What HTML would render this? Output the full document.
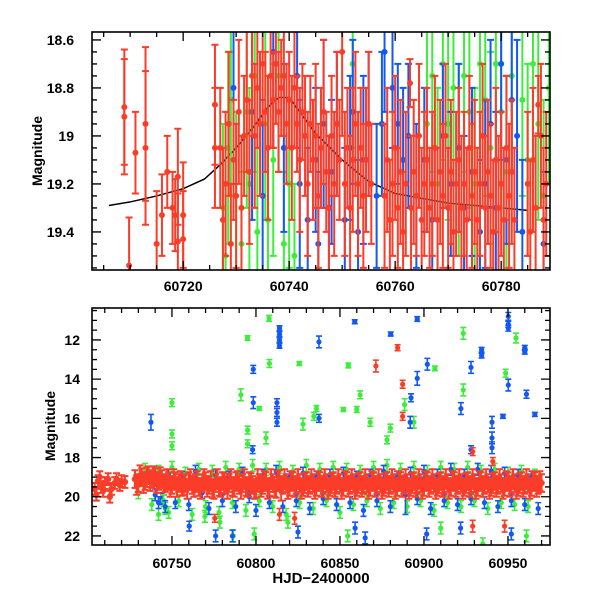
<!DOCTYPE html>
<html><head><meta charset="utf-8"><style>
body{margin:0;background:#fff}
svg{display:block}
text{font-family:"Liberation Sans",sans-serif;font-weight:bold;fill:#000}
</style></head><body>
<svg id="chart" width="600" height="600" viewBox="0 0 600 600">
<defs>
<clipPath id="ct"><rect x="92" y="32" width="458" height="238"/></clipPath>
<clipPath id="cb"><rect x="92" y="308" width="458" height="237"/></clipPath>
</defs>
<g id="topData" clip-path="url(#ct)"></g>
<g id="botData" clip-path="url(#cb)"></g>
<g id="axes"></g>
<text x="42" y="151" font-size="14" text-anchor="middle" transform="rotate(-90 42 151)">Magnitude</text>
<text x="55" y="426" font-size="14" text-anchor="middle" transform="rotate(-90 55 426)">Magnitude</text>
<text x="321" y="583" font-size="15" text-anchor="middle">HJD−2400000</text>
</svg>
<script>
// ---- top panel data ----
const curveT=[60706,60710,60715,60720,60724,60727,60730,60733,60736,60738,60740,60742,60745,60750,60755,60760,60765,60770,60775,60780,60785];
const curveM=[19.29,19.275,19.25,19.22,19.18,19.12,19.05,18.97,18.88,18.84,18.84,18.9,18.99,19.1,19.19,19.24,19.26,19.28,19.29,19.3,19.31];
const topGreen=[[60727.5,19.3,.35],[60728,19.5,.3],[60728.5,19.05,.4],[60729,18.85,.4],[60730,19.25,.35],[60731,19.45,.3],[60732,18.9,.4],[60732.5,19.2,.4],[60733.5,18.75,.4],[60734,19.4,.35],[60735.5,18.95,.4],[60736,19.35,.3],[60737,19.1,.4],[60738,18.75,.4],[60739,19.45,.3],[60740,19.2,.35],[60741,19.5,.3],[60752,18.7,.35],[60766,18.95,.45],[60767,18.75,.4],[60768,19.2,.4],[60769,18.7,.4],[60770,18.95,.4],[60771,18.8,.4],[60772,19.1,.4],[60773,18.75,.4],[60774,18.9,.4],[60775,19.2,.4],[60776,18.7,.4],[60777,18.85,.4],[60778,19.05,.4],[60779,18.7,.4],[60780,18.9,.4],[60781,19.15,.4],[60782,18.75,.4],[60784,18.85,.4],[60785,19.1,.4],[60786,18.7,.4],[60787,18.95,.4],[60788,19.25,.4],[60789,18.8,.4]];
const topBlue=[[60729.5,18.8,.4],[60733,18.9,.45],[60735,19.25,.4],[60737,18.65,.4],[60739,19.05,.35],[60741.5,18.75,.3],[60742,19.2,.35],[60743.5,19.35,.3],[60745,19.1,.3],[60745.5,19.45,.3],[60746.5,18.95,.35],[60747.5,19.3,.3],[60748,19.15,.3],[60749,18.95,.3],[60750.5,19.35,.3],[60751.5,19.05,.3],[60752,18.9,.3],[60753,19.4,.3],[60754,19.1,.35],[60755,18.95,.3],[60756.5,19.25,.3],[60757.5,18.95,.3],[60758,18.65,.25],[60759.5,18.8,.25],[60760.5,18.95,.25],[60761.5,19.1,.3],[60762.5,19.0,.3],[60764,19.25,.3],[60765.5,19.1,.3],[60767,19.35,.3],[60769,19.0,.3],[60770.5,19.2,.3],[60772,19.05,.35],[60773,19.3,.3],[60774.5,19.15,.35],[60776,19.4,.3],[60777,19.2,.35],[60778,18.95,.35],[60779,19.3,.4],[60780,18.7,.4],[60781,19.1,.35],[60782,18.85,.3],[60783,19.0,.4],[60784,19.4,.3],[60788,19.45,.3]];
const topRed=[[60708.9,18.88,.24],[60708.9,18.92,.24],[60709.8,19.54,.2],[60711,19.07,.17],[60712.9,18.95,.32],[60712.9,19.05,.32],[60715,19.45,.22],[60716,19.33,.17],[60717,19.15,.15],[60718,19.3,.15],[60718.5,19.33,.15],[60719,19.17,.2],[60719,19.44,.2],[60720,19.33,.22],[60720,19.43,.2],[60726,18.87,.25],[60726,19.05,.25],
[60727,19.05,.25],[60727.5,19.35,.3],[60728,19.2,.3],[60728.6,18.95,.3],[60729,19.45,.25],[60729.5,19.1,.25],[60730,19.25,.3],[60730.5,18.9,.3],[60731,19.3,.3],[60731.5,19.0,.25],[60732,18.85,.3],[60732.5,19.15,.3],[60733,18.75,.25],[60733.5,19.0,.3],[60734,18.8,.25],[60734.5,18.95,.3],[60735,18.7,.25],[60735.5,18.9,.25],[60736,19.05,.3],[60736.5,18.75,.3],[60737,18.85,.2],[60737.5,18.7,.25],[60738,18.9,.25],[60738.5,18.8,.2],[60739,18.75,.25],[60739.5,18.95,.25],[60740,18.85,.2],[60740.5,19.05,.3],[60741,18.8,.25],[60741.5,18.95,.2],[60742,19.1,.3],[60742.5,18.9,.2],[60743,19.0,.25],[60743.5,19.2,.3],[60744,18.95,.2],[60744.5,19.1,.25],[60745,19.0,.3],[60745.5,19.25,.3],[60746,19.05,.25],[60746.5,18.9,.3],[60747,19.15,.25],[60747.5,19.3,.3],[60748,19.0,.25],[60748.5,19.2,.3],[60749,18.95,.3],[60749.5,19.1,.25],[60750,18.65,.35],[60750.5,19.2,.3],[60751,19.05,.25],[60751.5,19.3,.3],[60752,19.1,.3],[60752.5,18.95,.3],[60753,19.2,.3],[60753.5,19.05,.25],[60754,19.25,.3],[60754.5,19.1,.3],[60755,18.95,.3],[60755.5,19.2,.25],[60758,19.25,.3],[60758.5,19.1,.3],[60759,19.35,.25],[60759.5,19.2,.3],[60760,19.05,.3],[60760.5,19.3,.25],[60761,19.15,.3],[60761.5,19.4,.25],[60762,19.2,.3],[60762.8,18.78,.1],[60763,19.3,.3],[60763.5,19.15,.3],[60764,19.25,.25],[60764.5,19.0,.3],[60765,19.35,.3],[60765.5,19.2,.3],[60766,19.1,.3],[60766.5,19.3,.25],[60767,19.2,.3],[60767.5,19.05,.3],[60768,19.35,.3],[60768.5,19.15,.3],[60769,19.25,.3],[60769.5,19.0,.3],[60770,19.3,.25],[60770.5,19.15,.3],[60771,19.4,.3],[60771.5,19.2,.3],[60772,19.1,.3],[60772.5,19.3,.3],[60773,19.2,.3],[60773.5,19.35,.3],[60774,19.05,.3],[60774.5,19.25,.3],[60775,19.15,.3],[60775.5,19.35,.3],[60776,19.2,.3],[60776.5,19.0,.3],[60777,19.3,.3],[60777.5,19.15,.3],[60778,19.25,.3],[60778.5,19.4,.3],[60779,19.1,.3],[60779.5,19.3,.3],[60780,19.2,.3],[60780.5,19.35,.3],[60781,19.05,.3],[60781.5,19.25,.3],[60782,19.15,.3],[60782.5,19.35,.3],[60785,19.2,.3],[60785.5,19.4,.3],[60786,19.1,.3],[60786.5,19.3,.3],[60787,18.87,.12],[60787.5,19.0,.3],[60788,19.35,.3],[60788.5,19.2,.3]];
// ---- bottom panel data ----
const botGreenBand=[[60730,19.8,.3],[60734,18.6,.3],[60738,20.4,.3],[60742,18.7,.3],[60746,20.6,.3],[60750,18.5,.3],[60754,20.2,.3],[60758,18.8,.3],[60762,20.9,.3],[60766,18.6,.3],[60770,20.5,.3],[60774,18.7,.3],[60778,20.8,.3],[60782,18.5,.3],[60786,20.3,.3],[60790,18.6,.3],[60794,20.7,.3],[60798,18.4,.3],[60802,20.2,.3],[60806,18.6,.3],[60810,20.5,.3],[60814,18.5,.3],[60818,20.9,.3],[60822,18.7,.3],[60826,20.3,.3],[60830,18.4,.3],[60834,20.6,.3],[60838,18.6,.3],[60842,20.2,.3],[60846,18.5,.3],[60850,20.8,.3],[60854,18.6,.3],[60858,20.4,.3],[60862,18.7,.3],[60866,20.2,.3],[60870,18.5,.3],[60874,20.6,.3],[60878,18.4,.3],[60882,20.3,.3],[60886,18.6,.3],[60890,20.5,.3],[60894,18.5,.3],[60898,20.2,.3],[60902,18.7,.3],[60906,20.7,.3],[60910,18.5,.3],[60914,20.3,.3],[60918,18.6,.3],[60922,20.5,.3],[60926,18.5,.3],[60930,20.2,.3],[60934,18.7,.3],[60938,20.6,.3],[60942,18.6,.3],[60946,20.3,.3],[60950,18.8,.3],[60954,20.4,.3],[60958,18.7,.3],[60962,20.5,.3],[60966,18.9,.3]];
const botBlueBand=[[60735,18.8,.3],[60740,19.9,.3],[60744,20.1,.3],[60748,18.9,.3],[60752,20.3,.3],[60756,19.0,.3],[60760,20.4,.3],[60764,18.7,.3],[60768,19.8,.3],[60772,20.6,.3],[60776,18.9,.3],[60780,20.2,.3],[60784,19.0,.3],[60788,20.5,.3],[60792,18.8,.3],[60796,20.0,.3],[60800,20.7,.3],[60804,18.9,.3],[60808,20.3,.3],[60812,18.7,.3],[60816,20.5,.3],[60820,19.0,.3],[60824,20.2,.3],[60828,18.8,.3],[60832,20.6,.3],[60836,19.0,.3],[60840,20.1,.3],[60844,18.9,.3],[60848,20.4,.3],[60852,18.8,.3],[60856,20.3,.3],[60860,19.0,.3],[60864,20.7,.3],[60868,18.9,.3],[60872,20.2,.3],[60876,18.7,.3],[60880,20.5,.3],[60884,19.0,.3],[60889,19.9,1.0],[60892,18.8,.3],[60896,20.1,.3],[60900,18.7,.3],[60904,20.6,.3],[60908,18.9,.3],[60912,20.2,.3],[60916,18.6,.3],[60920,20.4,.3],[60924,18.9,.3],[60928,20.1,.3],[60932,18.6,.3],[60936,20.3,.3],[60940,18.7,.3],[60944,20.5,.3],[60948,18.8,.3],[60952,20.2,.3],[60956,18.9,.3],[60960,20.4,.3],[60964,19.0,.3],[60968,20.6,.3]];
const botRedBand=[[60704,19.6,.3],[60705,19.9,.3],[60706,19.2,.3],[60707,19.0,.3],[60708,19.5,.3],[60709,19.7,.3],[60710,19.3,.3],[60712,19.1,.3],[60713,20.0,.3],[60714,19.6,.3],[60716,19.3,.3],[60717,19.1,.3],[60719,19.4,.3],[60720,19.2,.3],[60722,19.25,.3],
[60728,19.1,.45],[60730,19.3,.45],[60732,19.0,.45],[60734,19.2,.45],[60736,18.9,.45],[60738,19.1,.45],[60740,19.0,.45],[60742,19.2,.45],[60744,19.1,.45],[60746,19.3,.45],[60748,19.2,.45],[60750,19.4,.45],[60752,19.2,.45],[60754,19.3,.45],[60756,19.5,.45],[60758,19.3,.45],[60760,19.2,.45],[60762,19.4,.45],[60764,19.3,.45],[60766,19.5,.45],[60768,19.3,.45],[60770,19.2,.45],[60772,19.4,.45],[60774,19.6,.45],[60776,19.3,.45],[60778,19.5,.45],[60780,19.2,.45],[60782,19.4,.45],[60784,19.3,.45],[60786,19.5,.45],[60788,19.2,.45],[60790,19.4,.45],[60792,19.3,.45],[60794,19.5,.45],[60796,19.2,.45],[60798,19.4,.45],[60800,19.6,.45],[60802,19.3,.45],[60804,19.4,.45],[60806,19.2,.45],[60808,19.5,.45],[60810,19.3,.45],[60812,19.6,.45],[60814,19.1,.45],[60816,19.4,.45],[60818,19.3,.45],[60820,19.5,.45],[60822,19.2,.45],[60824,19.4,.45],[60826,19.3,.45],[60828,19.5,.45],[60830,19.2,.45],[60832,19.4,.45],[60834,19.3,.45],[60836,19.5,.45],[60838,19.2,.45],[60840,19.4,.45],[60842,19.3,.45],[60844,19.5,.45],[60846,19.2,.45],[60848,19.4,.45],[60850,19.3,.45],[60852,19.5,.45],[60854,19.2,.45],[60856,19.4,.45],[60858,19.3,.45],[60860,19.5,.45],[60862,19.2,.45],[60864,19.4,.45],[60866,19.3,.45],[60868,19.5,.45],[60870,19.2,.45],[60872,19.4,.45],[60874,19.3,.45],[60876,19.5,.45],[60878,19.2,.45],[60880,19.4,.45],[60882,19.3,.45],[60884,19.5,.45],[60886,19.2,.45],[60888,19.4,.45],[60890,19.3,.45],[60892,19.5,.45],[60894,19.2,.45],[60896,19.4,.45],[60898,19.3,.45],[60900,19.5,.45],[60902,19.2,.45],[60904,19.4,.45],[60906,19.3,.45],[60908,19.5,.45],[60910,19.2,.45],[60912,19.4,.45],[60914,19.3,.45],[60916,19.5,.45],[60918,19.2,.45],[60920,19.4,.45],[60922,19.3,.45],[60924,19.5,.45],[60926,19.2,.45],[60928,19.4,.45],[60930,19.3,.45],[60932,19.5,.45],[60934,19.2,.45],[60936,19.4,.45],[60938,19.3,.45],[60940,19.5,.45],[60942,19.2,.45],[60944,19.4,.45],[60946,19.3,.45],[60948,19.5,.45],[60950,19.2,.45],[60952,19.4,.45],[60954,19.3,.45],[60956,19.5,.45],[60958,19.2,.45],[60960,19.4,.45],[60962,19.3,.45],[60964,19.5,.45],[60966,19.2,.45],[60968,19.4,.45],[60970,19.3,.45]];
const botRedBand2=[[60729,19.4,.5],[60731,18.9,.5],[60733,19.3,.5],[60735,19.0,.5],[60737,19.2,.5],[60739,18.95,.5],[60741,19.3,.5],[60743,19.0,.5],[60745,19.4,.5],[60747,19.1,.5],[60749,19.5,.5],[60751,19.1,.5],[60753,19.5,.5],[60755,19.2,.5],[60757,19.4,.5],[60759,19.6,.5],[60761,19.1,.5],[60763,19.5,.5],[60765,19.2,.5],[60767,19.6,.5],[60769,19.1,.5],[60771,19.5,.5],[60773,19.2,.5],[60775,19.6,.5],[60777,19.1,.5],[60779,19.5,.5],[60781,19.3,.5],[60783,19.6,.5],[60785,19.1,.5],[60787,19.5,.5],[60789,19.2,.5],[60791,19.6,.5],[60793,19.1,.5],[60795,19.5,.5],[60797,19.3,.5],[60799,19.6,.5],[60801,19.1,.5],[60803,19.5,.5],[60805,19.2,.5],[60807,19.6,.5],[60809,19.1,.5],[60811,19.5,.5],[60813,19.2,.5],[60815,19.7,.5],[60817,19.1,.5],[60819,19.6,.5],[60821,19.2,.5],[60823,19.5,.5],[60825,19.1,.5],[60827,19.6,.5],[60829,19.3,.5],[60831,19.5,.5],[60833,19.1,.5],[60835,19.6,.5],[60837,19.2,.5],[60839,19.5,.5],[60841,19.1,.5],[60843,19.6,.5],[60845,19.3,.5],[60847,19.5,.5],[60849,19.1,.5],[60851,19.6,.5],[60853,19.2,.5],[60855,19.5,.5],[60857,19.1,.5],[60859,19.6,.5],[60861,19.3,.5],[60863,19.5,.5],[60865,19.1,.5],[60867,19.6,.5],[60869,19.2,.5],[60871,19.5,.5],[60873,19.1,.5],[60875,19.6,.5],[60877,19.3,.5],[60879,19.5,.5],[60881,19.1,.5],[60883,19.6,.5],[60885,19.2,.5],[60887,19.5,.5],[60889,19.1,.5],[60891,19.6,.5],[60893,19.3,.5],[60895,19.5,.5],[60897,19.1,.5],[60899,19.6,.5],[60901,19.2,.5],[60903,19.5,.5],[60905,19.1,.5],[60907,19.6,.5],[60909,19.3,.5],[60911,19.5,.5],[60913,19.1,.5],[60915,19.6,.5],[60917,19.2,.5],[60919,19.5,.5],[60921,19.1,.5],[60923,19.6,.5],[60925,19.3,.5],[60927,19.5,.5],[60929,19.1,.5],[60931,19.6,.5],[60933,19.2,.5],[60935,19.5,.5],[60937,19.1,.5],[60939,19.6,.5],[60941,19.3,.5],[60943,19.5,.5],[60945,19.1,.5],[60947,19.6,.5],[60949,19.2,.5],[60951,19.5,.5],[60953,19.1,.5],[60955,19.6,.5],[60957,19.3,.5],[60959,19.5,.5],[60961,19.1,.5],[60963,19.6,.5],[60965,19.2,.5],[60967,19.5,.5],[60969,19.2,.5]];
const botGreenOut=[[60807.8,10.9,.15],[60795,11.9,.12],[60808,13.2,.2],[60825.8,13.2,.1],[60855,13.3,.12],[60791,14.8,.3],[60802,15.5,.1],[60862,14.8,.2],[60860,15.55,.15],[60852,15.55,.1],[60836,15.5,.15],[60828,16.3,.3],[60834.5,15.9,.2],[60795,16.6,.2],[60795,17.3,.2],[60806,17.0,.3],[60750,15.2,.2],[60750,16.8,.2],[60750,17.4,.2],[60769.6,21.0,.3],[60778.5,21.3,.3],[60799,21.9,.3],[60819,21.3,.3],[60786.5,22.0,.3],[60854.6,22.0,.3],[60906.5,13.45,.12],[60888.5,15.3,.3],[60868,16.2,.2],[60880,16.5,.2],[60878,17.1,.2],[60894,16.2,.3],[60923.4,11.66,.3],[60923.4,14.55,.3],[60954.8,11.9,.25],[60948.6,13.7,.2],[60935,22.4,.3],[60961,22.0,.3],[60910,21.6,.3],[60745,20.2,.3],[60748,20.8,.3],[60742,20.9,.3]];
const botBlueOut=[[60737.5,16.2,.4],[60814,11.4,.12],[60814,11.7,.12],[60814,12.0,.12],[60814,12.3,.12],[60837.5,12.1,.3],[60858.8,11.07,.1],[60798.4,13.5,.2],[60798.4,15.2,.3],[60812.5,15.2,.2],[60812.5,15.7,.2],[60812.5,16.2,.2],[60837.5,16.0,.2],[60798,17.6,.2],[60760.3,21.5,.25],[60776,22.0,.3],[60786,22.0,.3],[60825,21.8,.3],[60859,21.6,.3],[60896,10.93,.12],[60880.2,11.7,.1],[60902,13.24,.3],[60896,13.96,.35],[60892.3,14.95,.2],[60891.8,16.2,.3],[60934.3,12.5,.12],[60934.3,12.8,.12],[60928,13.4,.3],[60922,15.5,.3],[60940.5,16.2,.3],[60947,15.9,.1],[60950.2,10.8,.2],[60950.2,11.2,.15],[60950.2,11.4,.15],[60960,12.4,.12],[60960,12.6,.12],[60950.2,14.3,.3],[60961,14.77,.2],[60966,15.8,.1],[60940.5,17.0,.3],[60940.5,17.5,.3],[60928,17.6,.2],[60901.6,21.9,.3],[60865,22.1,.3],[60952,21.9,.3],[60921.8,21.6,.3],[60742,20.3,.3],[60746,20.5,.3]];
const botRedOut=[[60884.3,12.4,.15],[60871.4,13.33,.3],[60887.3,14.26,.2],[60887.3,15.9,.2],[60929,17.7,.2],[60941,18.2,.2],[60775.5,21.1,.2],[60814,20.9,.3],[60823,21.1,.3],[60948,21.5,.3],[60929,21.5,.3]];
// ---- tick labels ----
const topXTicks=[60720,60740,60760,60780];
const topYTicks=[18.6,18.8,19,19.2,19.4];
const topYLabels=["18.6","18.8","19","19.2","19.4"];
const botXTicks=[60750,60800,60850,60900,60950];
const botYTicks=[12,14,16,18,20,22];

const NS="http://www.w3.org/2000/svg";
const RED="#fa3c28",BLUE="#1358f2",GREEN="#3ced3a";
const tx=t=>92+(t-60702.8)*5.3, ty=m=>32+(m-18.567)*240;
const bx=t=>92+(t-60702.4)*1.68, by=m=>308+(m-10.37)*19.6;

function mk(tag,attrs,parent){const e=document.createElementNS(NS,tag);for(const k in attrs)e.setAttribute(k,attrs[k]);parent.appendChild(e);return e;}

function drawSeries(parent,data,color,sx,sy,name,r,cap,sw){
  const g=mk('g',{},parent);
  
  
  data.forEach(d=>{
    const x=sx(d[0]),y=sy(d[1]),y1=sy(d[1]-d[2]),y2=sy(d[1]+d[2]);
    const p=mk('path',{d:`M${x},${y1}V${y2}M${x-cap},${y1}H${x+cap}M${x-cap},${y2}H${x+cap}`,stroke:color,'stroke-width':sw||1.6,fill:'none'},g);
    
    
    const c=mk('circle',{cx:x,cy:y,r:r,fill:color},g);
    
    
  });
}
const topG=document.getElementById('topData'), botG=document.getElementById('botData');
const cv=mk('path',{d:curveT.map((t,i)=>(i?'L':'M')+tx(t)+','+ty(curveM[i])).join(''),stroke:'#000','stroke-width':1.5,fill:'none'},topG);


drawSeries(topG,topGreen,GREEN,tx,ty,'top-green-series',3,3.5,2);
drawSeries(topG,topBlue,BLUE,tx,ty,'top-blue-series',3,3.5,2);
drawSeries(topG,topRed,RED,tx,ty,'top-red-series',3,3.5,2);
drawSeries(botG,botGreenBand,GREEN,bx,by,'bottom-green-band',2.6,3);
drawSeries(botG,botBlueBand,BLUE,bx,by,'bottom-blue-band',2.6,3);
drawSeries(botG,botRedBand2,RED,bx,by,'bottom-red-band-odd',3,3.5,2);
drawSeries(botG,botRedBand,RED,bx,by,'bottom-red-band',3.2,3.5,2);
drawSeries(botG,botGreenOut,GREEN,bx,by,'bottom-green-outliers',2.6,3);
drawSeries(botG,botBlueOut,BLUE,bx,by,'bottom-blue-outliers',2.6,3);
drawSeries(botG,botRedOut,RED,bx,by,'bottom-red-outliers',2.6,3);

// axes
const ax=document.getElementById('axes');
function frame(x0,y0,x1,y1,name){
  const r=mk('rect',{x:x0,y:y0,width:x1-x0,height:y1-y0,fill:'none',stroke:'#000','stroke-width':1.6},ax);
  
  
}
function ticks(x0,y0,x1,y1,sx,sy,xmin,xmax,xmajor,xminor,ymin,ymax,ymajor,yminor,name){
  let d='';
  for(let v=Math.ceil(xmin/xminor)*xminor;v<=xmax;v+=xminor){const x=sx(v);const L=(Math.abs(v/xmajor-Math.round(v/xmajor))<1e-6)?9:5;d+=`M${x},${y1}v${-L}M${x},${y0}v${L}`;}
  for(let k=Math.ceil(ymin/yminor-1e-6);k*yminor<=ymax+1e-9;k++){const v=k*yminor;const y=sy(v);const L=(Math.abs(v/ymajor-Math.round(v/ymajor))<1e-6)?9:5;d+=`M${x0},${y}h${L}M${x1},${y}h${-L}`;}
  const p=mk('path',{d:d,stroke:'#000','stroke-width':1.3,fill:'none'},ax);
  
  
}
frame(92,32,550,270,'top-panel-frame');
frame(92,308,550,545,'bottom-panel-frame');
ticks(92,32,550,270,tx,ty,60703,60789,20,5,18.6,19.55,0.2,0.05,'top-ticks');
ticks(92,308,550,545,bx,by,60703,60975,50,10,10.5,22.4,2,0.5,'bottom-ticks');
topXTicks.forEach(v=>{const t=mk('text',{x:tx(v),y:291,'font-size':14,'text-anchor':'middle'},ax);t.textContent=v;
  
  });
topYTicks.forEach((v,i)=>{const t=mk('text',{x:74,y:ty(v)+5,'font-size':14,'text-anchor':'end'},ax);t.textContent=topYLabels[i];
  
  });
botXTicks.forEach(v=>{const t=mk('text',{x:bx(v),y:568,'font-size':14,'text-anchor':'middle'},ax);t.textContent=v;
  
  });
botYTicks.forEach(v=>{const t=mk('text',{x:80,y:by(v)+5,'font-size':14,'text-anchor':'end'},ax);t.textContent=v;
  
  });
</script>
</body></html>
